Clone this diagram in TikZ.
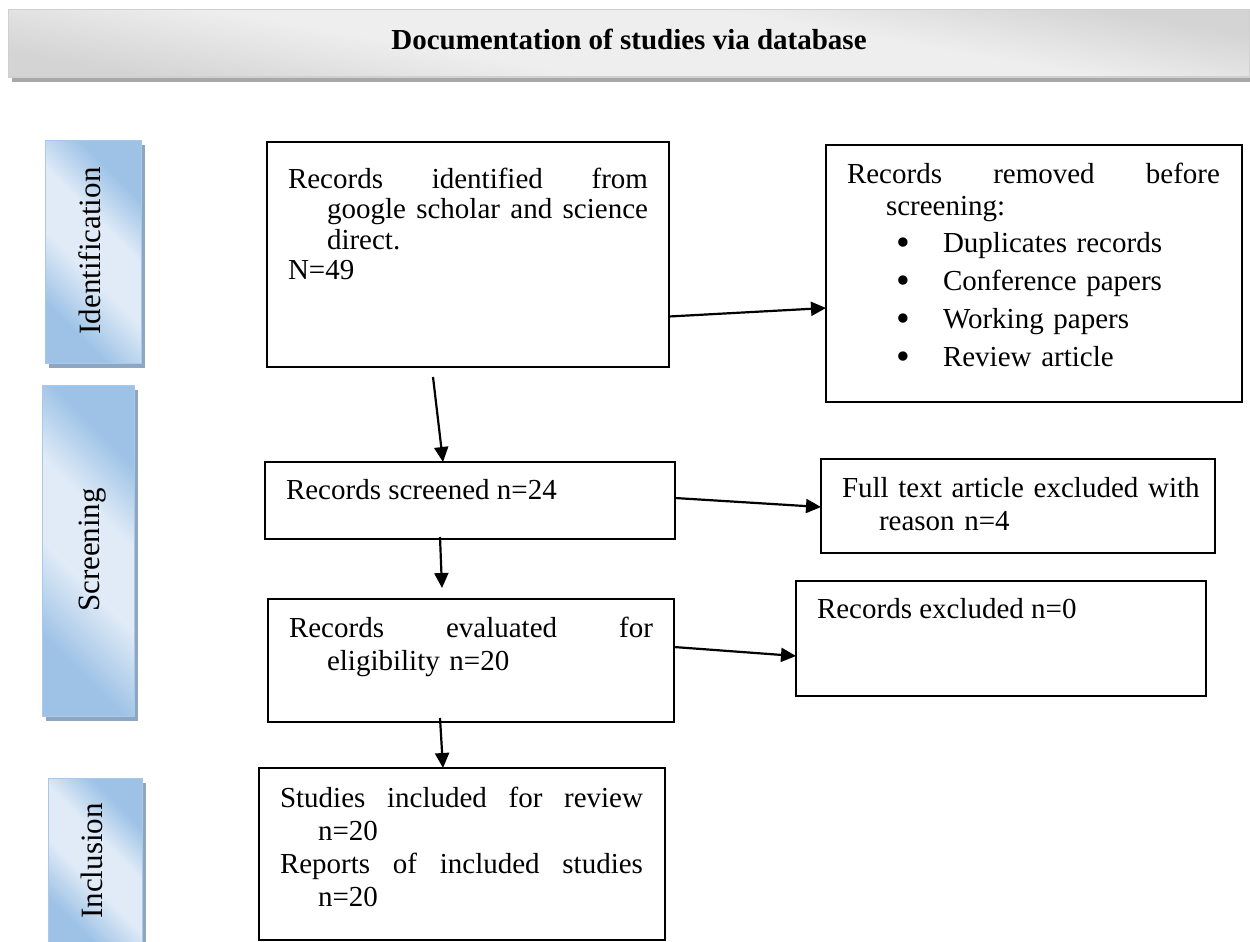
\documentclass[tikz,border=0pt]{standalone}
\usepackage{graphicx}
\usepackage{fontspec}
\setmainfont{Liberation Serif}
\usetikzlibrary{arrows.meta,shadows,calc}
\definecolor{sbdark}{RGB}{157,194,230}
\definecolor{sblight}{RGB}{224,235,247}
\definecolor{sbborder}{RGB}{168,201,234}
\definecolor{sbshadow}{RGB}{143,166,192}
\definecolor{hddark}{RGB}{212,212,212}
\definecolor{hdlight}{RGB}{238,238,238}
\definecolor{hdborder}{RGB}{208,208,208}
\definecolor{hdshadow}{RGB}{168,168,168}
\pgfdeclarehorizontalshading{sbshade}{100bp}{color(0bp)=(sbdark); color(28bp)=(sbdark); color(44bp)=(sblight); color(58bp)=(sblight); color(72bp)=(sbdark); color(100bp)=(sbdark)}
\pgfdeclarehorizontalshading{hdshade}{100bp}{color(0bp)=(hddark); color(26bp)=(hddark); color(42bp)=(hdlight); color(60bp)=(hdlight); color(74bp)=(hddark); color(100bp)=(hddark)}
\newcommand{\bulletmark}{\raisebox{-3pt}{\scalebox{1.35}{•}}}
\begin{document}
\begin{tikzpicture}[x=1pt,y=-1pt,
  box/.style={draw=black, line width=1.8pt, fill=white, inner sep=0pt, outer sep=0pt, anchor=north west},
  txt/.style={inner sep=0pt, outer sep=0pt, anchor=base west, align=left, font=\fontsize{29}{33}\selectfont},
  arr/.style={line width=2.2pt, -{Triangle[length=15pt,width=14pt]}},
  side/.style={draw=sbborder, line width=1pt, shading=sbshade, shading angle=45, inner sep=0pt, outer sep=0pt, anchor=north west,
    drop shadow={shadow xshift=4pt, shadow yshift=-5pt, fill=sbshadow, opacity=1}},
  lbl/.style={inner sep=0pt, outer sep=0pt, rotate=90, anchor=base, font=\fontsize{31}{31}\selectfont},
]
\useasboundingbox (0,0) rectangle (1250,942);

% header
\node[draw=hdborder, line width=1pt, shading=hdshade, shading angle=80, inner sep=0pt, outer sep=0pt, anchor=north west,
  minimum width=1241pt, minimum height=67pt,
  drop shadow={shadow xshift=4pt, shadow yshift=-5pt, fill=hdshadow, opacity=1}] (head) at (8,10) {};
\node[inner sep=0pt, anchor=base, font=\fontsize{29}{33}\selectfont\bfseries] (title) at (629,50) {Documentation of studies via database};

% side bars
\node[side, minimum width=96pt, minimum height=223pt] (sid) at (45,140) {};
\node[lbl] (lid) at (100,251) {Identification};
\node[side, minimum width=92pt, minimum height=331pt] (ssc) at (42,385) {};
\node[lbl] (lsc) at (99,550) {Screening};
\node[side, minimum width=94pt, minimum height=170pt] (sin) at (48,778) {};
\node[lbl] (lin) at (102,861) {Inclusion};

% boxes
\node[box, minimum width=402pt, minimum height=225pt] (b1) at (267,142) {};
\node[box, minimum width=416pt, minimum height=257pt] (b2) at (826,145) {};
\node[box, minimum width=410pt, minimum height=77pt] (b3) at (265,462) {};
\node[box, minimum width=394pt, minimum height=94pt] (b5) at (821,459) {};
\node[box, minimum width=406pt, minimum height=123pt] (b4) at (268,599) {};
\node[box, minimum width=410pt, minimum height=115pt] (b6) at (796,581) {};
\node[box, minimum width=406pt, minimum height=172pt] (b7) at (259,768) {};

% texts
\node[txt, text width=360pt, font=\fontsize{29}{30.5}\selectfont] (t1) at (288,188)
  {Records\hfill identified\hfill from\\
   \hspace*{39pt}google\hfill scholar\hfill and\hfill science\\
   \hspace*{39pt}direct.\\
   N=49};
\node[txt, text width=373pt, font=\fontsize{29}{32}\selectfont] (t2) at (847,183)
  {Records\hfill removed\hfill before\\
   \hspace*{39pt}screening:\\[5pt]
   \hspace*{49pt}\makebox[47pt][l]{\bulletmark}Duplicates records\\[6pt]
   \hspace*{49pt}\makebox[47pt][l]{\bulletmark}Conference papers\\[6pt]
   \hspace*{49pt}\makebox[47pt][l]{\bulletmark}Working papers\\[6pt]
   \hspace*{49pt}\makebox[47pt][l]{\bulletmark}Review article};
\node[txt] (t3) at (286,499) {Records screened n=24};
\node[txt, text width=360pt] (t5) at (842,497)
  {Full text article excluded with\\
   \hspace*{37pt}reason n=4};
\node[txt, text width=364pt] (t4) at (289,637)
  {Records\hfill evaluated\hfill for\\
   \hspace*{38pt}eligibility n=20};
\node[txt] (t6) at (817,618) {Records excluded n=0};
\node[txt, text width=363pt, font=\fontsize{29}{33.3}\selectfont] (t7) at (280,807)
  {Studies\hfill included\hfill for\hfill review\\
   \hspace*{38pt}n=20\\
   Reports\hfill of\hfill included\hfill studies\\
   \hspace*{38pt}n=20};

% connectors
\draw[arr] ([shift={(0,62)}]b1.east) -- ([shift={(0,34.5)}]b2.west);
\draw[arr] ([shift={(166,10)}]b1.south west) -- ([shift={(178,0)}]b3.north west);
\draw[arr] ([shift={(175,-2)}]b3.south west) -- ([shift={(174,-11)}]b4.north west);
\draw[arr] ([shift={(0,-2.5)}]b3.east) -- ([shift={(0,1)}]b5.west);
\draw[arr] ([shift={(0,-13.5)}]b4.east) -- ([shift={(0,17.5)}]b6.west);
\draw[arr] ([shift={(172,-4)}]b4.south west) -- ([shift={(184,0)}]b7.north west);
\end{tikzpicture}
\end{document}
